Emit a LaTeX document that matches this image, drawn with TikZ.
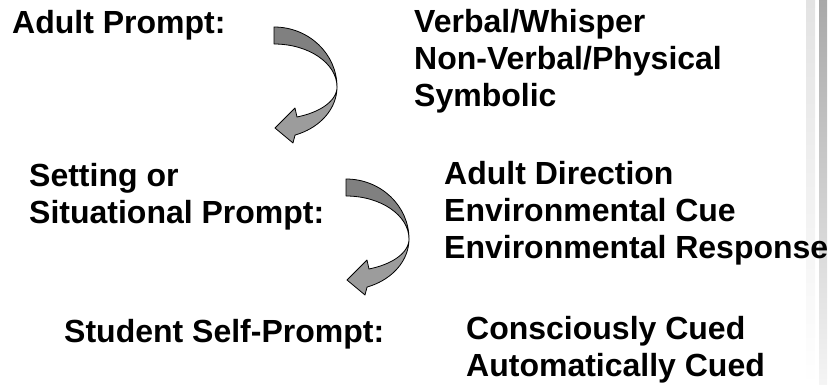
\documentclass[tikz,border=0pt]{standalone}
\usepackage{fontspec}
\setmainfont{Liberation Sans}
\begin{document}
\begin{tikzpicture}[x=1pt,y=-1pt,
  lbl/.style={anchor=base west,inner sep=0pt,font=\fontsize{32}{37.5}\selectfont\bfseries},
  backband/.style={fill=arrowdark,draw=black,line width=0.8pt,line join=round},
  frontband/.style={fill=arrowlight,draw=black,line width=0.8pt,line join=round}]
\definecolor{arrowdark}{HTML}{808080}
\definecolor{arrowlight}{HTML}{9C9C9C}
\useasboundingbox (0,0) rectangle (835,385);
% decorative stripes at right edge
\shade[top color=black!11,bottom color=white] (806,0) rectangle (815,385);
\shade[top color=black!34,bottom color=black!4] (819,0) rectangle (827,385);
% curved arrows
\foreach \sx/\sy in {274/27, 346/179}{
  \begin{scope}[shift={(\sx,\sy)}]
    \path[backband] (0,0) -- (0,17) .. controls (34.8,17) and (63,36.3) .. (63,60)
       .. controls (63,26.9) and (34.8,0) .. (0,0) -- cycle;
    \path[frontband] (63,60) -- plot[domain=0:70.5,samples=24,variable=\t] ({63*cos(\t)},{60+51*sin(\t)})
       -- (19,116) -- (1,101) -- (21,81) -- (23,90)
       -- plot[domain=68.6:0,samples=24,variable=\t] ({63*cos(\t)},{60+32.2*sin(\t)}) -- cycle;
  \end{scope}
}
% texts
\node[lbl] (ap)  at (12,34)  {Adult Prompt:};
\node[lbl] (vw)  at (414,33) {Verbal/Whisper};
\node[lbl] (nv)  at (414,70) {Non-Verbal/Physical};
\node[lbl] (sy)  at (414,107) {Symbolic};
\node[lbl] (so1) at (29,186) {Setting or};
\node[lbl] (so2) at (29,223) {Situational Prompt:};
\node[lbl] (ad)  at (444,184) {Adult Direction};
\node[lbl] (ec)  at (444,221) {Environmental Cue};
\node[lbl] (er)  at (444,258) {Environmental Response};
\node[lbl] (ssp) at (64,342) {Student Self-Prompt:};
\node[lbl] (cc)  at (466,339) {Consciously Cued};
\node[lbl] (acu) at (466,376) {Automatically Cued};
\end{tikzpicture}
\end{document}
